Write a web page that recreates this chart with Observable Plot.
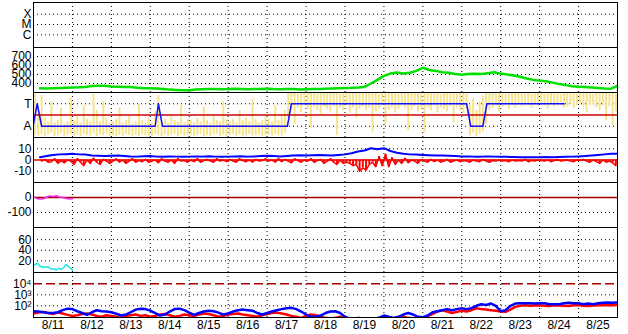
<!DOCTYPE html>
<html><head><meta charset="utf-8">
<script src="https://cdn.jsdelivr.net/npm/d3@7"></script>
<script src="https://cdn.jsdelivr.net/npm/@observablehq/plot@0.6"></script>
<style>
html,body{margin:0;padding:0;background:#fff;}
#chart{position:relative;width:628px;height:334px;overflow:hidden;background:#fff;}
#chart svg{position:absolute;left:0;}
</style></head><body><div id="chart"></div>
<script>
// ---- data ----
const dayLabels = ["8/11","8/12","8/13","8/14","8/15","8/16","8/17","8/18","8/19","8/20","8/21","8/22","8/23","8/24","8/25"];
const xrayTickValues = [-6, -5, -4];
const xrayTickLabels = ["C", "M", "X"];
const speedTicks = [400, 500, 600, 700];
const phiTickValues = [135, 315];
const phiTickLabels = ["A", "T"];
const bTicks = [-10, 0, 10];
const magTicks = [-100, 0];
const cyanTicks = [20, 40, 60];
const protonTickValues = [100, 1000, 10000];
const protonTickLabels = ["10²", "10³", "10⁴"];

// solar wind speed, every 4 h from 8/11 04:00
const speed = [348,345,348,350,352,355,357,362,372,375,
  374,368,365,362,360,352,348,346,345,340,
  332,328,325,326,332,335,338,340,336,338,
  342,340,336,338,340,342,338,336,340,338,
  332,335,338,340,342,345,348,350,352,356,
  362,400,440,485,510,522,512,520,540,575,
  550,540,525,520,505,498,505,508,506,515,
  525,510,500,488,475,455,440,432,425,410,
  395,382,370,365,360,355,350,345,342,372];

// IMF phi angle ranges, 2-hour bins from 8/11 00:00
const phiLo = [60,55,70,50,65,80,55,60,75,50,60,70,
  55,65,50,70,60,55,75,50,65,60,70,55,
  60,50,65,55,70,60,50,65,55,70,60,50,
  55,70,60,50,65,55,60,70,50,65,55,60,
  65,55,60,70,50,60,55,65,70,55,60,50,
  60,70,55,65,50,60,70,55,60,65,50,60,
  65,55,70,60,55,80,
  200,260,150,280,240,300,270,120,280,260,230,290,
  270,250,290,60,280,260,300,240,280,200,270,290,
  260,280,90,250,270,300,150,260,280,240,270,300,
  280,100,260,290,250,270,80,280,260,300,240,280,
  270,250,290,160,280,260,240,270,
  60,80,50,70,90,150,
  260,280,300,250,290,310,270,300,280,320,290,300,
  300,280,310,290,320,300,270,310,290,300,320,280,
  290,310,280,300,320,290,240,300,310,280,260,300,
  180,290,140,250];
const phiHi = [390,240,380,200,170,330,160,180,280,150,170,360,
  180,210,160,300,190,170,390,260,170,330,200,160,
  170,190,280,160,180,220,150,170,310,180,160,200,
  160,250,380,170,190,160,210,180,170,300,160,190,
  180,160,200,170,290,180,160,210,180,170,330,190,
  170,190,160,260,180,200,170,350,190,160,180,210,
  190,170,300,180,220,260,
  400,395,405,390,400,405,395,400,405,390,400,405,
  395,405,400,405,390,400,405,395,400,405,395,400,
  405,400,395,405,390,400,405,395,400,405,390,400,
  400,405,395,400,405,390,400,405,395,400,405,390,
  405,400,395,405,390,400,405,395,
  300,350,260,330,380,400,
  400,405,395,400,405,390,400,405,395,400,405,395,
  400,390,405,395,400,390,405,400,395,405,390,400,
  400,395,405,390,400,405,395,400,390,405,400,395,
  400,395,405,390];
// sector polarity line (hours, degrees)
const polarityHours = [0, 2.3, 5, 75, 77, 79.5, 156.5, 159, 267, 269.5, 277, 279.5, 327];
const polarityValues = [155, 315, 135, 135, 315, 135, 135, 315, 315, 135, 135, 315, 315];
const sectorBoundary = 225;

// Bt every 4 h from 8/11 04:00
const bt = [2.5,3.5,4.5,5.0,5.2,5.5,5.0,4.8,4.0,3.8,
  3.5,3.8,4.0,3.6,3.2,3.0,3.4,3.6,3.0,2.8,
  3.2,3.0,2.8,3.0,3.2,3.0,3.4,3.0,2.8,3.0,
  3.2,3.4,3.0,3.2,3.5,3.8,3.5,3.2,3.6,4.0,
  4.2,4.0,4.2,4.5,4.2,4.0,4.5,5.0,6.0,7.5,
  8.5,10.5,9.5,10.5,8.0,6.5,5.5,5.0,4.8,4.5,
  4.2,4.0,4.0,3.8,3.5,3.2,3.2,3.0,3.0,3.2,
  3.0,2.8,2.8,2.6,2.5,2.5,2.4,2.5,2.6,2.5,
  2.6,2.8,3.0,3.2,3.5,4.0,4.5,5.0,5.5,5.5];
// Bz every 2 h from 8/11 05:00
const bz = [-1,0.5,-2,-1.5,1,-3,-0.5,-2.5,0,-1,
  -4,1,-2,-5,0,-3,1.5,-2,-4,0.5,-1,-3,
  -1,1,-2,0,-3,-1,1,-2,-0.5,-1.5,0.5,-2,
  -1,0,-2.5,1,-1,-2,0,-3,1,-1,-0.5,-2,
  0,-1.5,1,-2,-0.5,0.5,-1,-2,1,-1,0,-1.5,
  0.5,-1,-2,1,-0.5,-1.5,0,-2,0.5,-1,-0.5,1,
  -1,0,-2,1,-1.5,0.5,-1,-2.5,1,-0.5,-2,0,
  -1,1,-2,-0.5,0.5,-3,-1,1,-2,-4,0,-3,
  -2,-3,-5,-4,-10,-7,-9,-4,-2,-6,3,-5,
  5,-6,2,-4,0,-3,1.5,-2.5,0,-1,-3,0.5,
  -1,-2,0.5,-1.5,0,-2,-1,0.5,-2,-1,0,-1.5,
  -0.5,-1,-2,0,-1,-1.5,0.5,-1,-2,-0.5,-1,0,
  -1,-0.5,-1.5,0,-1,-0.5,-1,0.5,-1.5,-0.5,-1,0,
  -0.5,-1,0,-1.5,-0.5,0.5,-1,-0.5,0,-1,-1.5,0,
  -0.5,0.5,-1,-2,0,-1.5,-3,0,-2,-1,-2.5,-5];

// magnetometer-like series, every 2 h from 8/11 00:00
const magenta = [8,-6,-10,-8,2,10,6,12,3,0,-5,-10,-8];
// hourly series from 8/11 00:00
const cyan = [11,13,15,14,9,10,7,9,8,9,6,5,4,5,3,5,6,4,6,9,13,11,8,6,2];

// particle flux, every 3 h from 8/11 00:00
const fluxBlue = [32,30,26,22,22,26,40,55,
  50,32,22,15,26,40,32,30,
  26,19,13,16,26,45,55,50,
  36,22,13,16,30,50,55,40,
  24,15,22,30,36,32,24,16,
  20,30,40,45,40,36,22,16,
  22,30,40,50,60,65,50,30,
  16,10,10,13,22,30,32,22,
  10,7,7,7,7,7,7,8,
  13,10,8,10,16,22,16,10,
  9,13,26,32,40,50,40,50,
  60,50,60,100,140,120,160,100,
  32,40,100,160,170,170,170,160,
  170,170,140,140,140,170,190,170,
  170,140,160,140,170,190,200,190,
  200];
const fluxRed = [20,25,28,22,18,24,20,15,
  12,14,18,20,16,12,10,14,
  12,10,8,12,14,16,12,14,
  10,12,16,18,14,10,12,16,
  14,12,16,20,18,14,10,12,
  16,18,20,16,14,12,10,14,
  18,22,24,20,16,12,10,8,
  12,16,14,10,8,7,8,10,
  7,6,7,8,6,7,6,7,
  8,6,7,8,10,8,7,9,
  8,12,18,30,40,30,22,28,
  35,30,40,60,50,45,40,35,
  30,28,45,80,100,110,100,105,
  110,100,95,110,105,100,95,110,
  120,100,95,105,110,115,120,110,
  120];
const fluxThreshold = 10000;

// ---- build ----
const t0 = Date.UTC(2016, 7, 11);
const HOUR = 3600e3;
const at = h => new Date(t0 + h * HOUR);
const xDomain = [at(0), at(360)];
const series = (vals, start, step) => vals.map((v, i) => ({t: at(start + i * step), v}));
const midnights = d3.range(1, 15).map(i => at(24 * i));
const days = dayLabels.map((label, i) => ({t: at(24 * i + 12), label}));
const chart = document.getElementById("chart");
const FONT = '"Liberation Sans", Arial, Helvetica, sans-serif';
const dots = {stroke: "black", strokeDasharray: "1,3", strokeWidth: 1};

function panel(i, yOpts, ticks, tickFormat, marks, extra = {}) {
  const mb = extra.marginBottom || 0;
  const svg = Plot.plot({
    width: 628, height: 45 + mb,
    marginLeft: 33, marginRight: 11, marginTop: 0, marginBottom: mb,
    x: {type: "utc", domain: xDomain, axis: null},
    y: {...yOpts, label: null},
    style: {fontFamily: FONT, fontSize: "12px", background: "transparent", overflow: "visible", color: "black"},
    marks: [
      Plot.ruleX(midnights, dots),
      ...(extra.grid || ticks).map(v => Plot.ruleY([v], dots)),
      ...marks,
      Plot.axisY({ticks, tickSize: 0, tickPadding: 2, tickFormat, fontSize: 12, label: null}),
      Plot.frame({stroke: "black", strokeWidth: 1}),
      ...(extra.after || [])
    ]
  });
  svg.style.top = (2 + 45 * i) + "px";
  chart.appendChild(svg);
}

// 1: X-ray class
panel(0, {domain: [-7.233, -2.864]}, xrayTickValues,
  d => xrayTickLabels[xrayTickValues.indexOf(d)], []);

// 2: speed
panel(1, {domain: [300, 800]}, speedTicks, d => String(d), [
  Plot.line(series(speed, 4, 4), {x: "t", y: "v", stroke: "#00e000", strokeWidth: 2.5, clip: true})
]);

// 3: phi
const phiBins = phiLo.map((lo, i) => ({t: at(2 * i + 1), lo, hi: phiHi[i]}));
const polarity = polarityHours.map((h, i) => ({t: at(h), v: polarityValues[i]}));
panel(2, {domain: [45, 405]}, phiTickValues,
  d => phiTickLabels[phiTickValues.indexOf(d)], [
  Plot.ruleX(phiBins, {x: "t", y1: "lo", y2: "hi", stroke: "#f6e38c", strokeWidth: 2, clip: true}),
  Plot.ruleY([sectorBoundary], {stroke: "#cc0000", strokeWidth: 1.5}),
  Plot.line(polarity, {x: "t", y: "v", stroke: "#1010ff", strokeWidth: 1.5, clip: true})
]);

// 4: Bz / Bt
const bzSeries = series(bz, 5, 2);
panel(3, {domain: [-20, 20]}, bTicks, d => String(d), [
  Plot.ruleY([0], {stroke: "#dd0000", strokeWidth: 1.5}),
  Plot.ruleX(bzSeries, {x: "t", y1: 0, y2: "v", stroke: "#ff0000", strokeWidth: 2, clip: true}),
  Plot.line(bzSeries, {x: "t", y: "v", stroke: "#ff0000", strokeWidth: 1.5, clip: true}),
  Plot.line(series(bt, 4, 4), {x: "t", y: "v", stroke: "#0000ff", strokeWidth: 2, clip: true})
], {grid: [-10, 10]});

// 5: magenta
panel(4, {domain: [-200, 100]}, magTicks, d => String(d), [
  Plot.ruleY([0], {stroke: "#a00000", strokeWidth: 1.5}),
  Plot.line(series(magenta, 0, 2), {x: "t", y: "v", stroke: "#ee22ee", strokeWidth: 1.5, clip: true})
], {grid: [-100]});

// 6: cyan
panel(5, {domain: [-2, 83]}, cyanTicks, d => String(d), [
  Plot.line(series(cyan, 0, 1), {x: "t", y: "v", stroke: "#22e6e6", strokeWidth: 1.5, clip: true})
]);

// 7: particle flux (log)
panel(6, {type: "log", domain: [8.63, 106400]}, protonTickValues,
  d => protonTickLabels[protonTickValues.indexOf(d)], [
  Plot.ruleY([fluxThreshold], {stroke: "#a80000", strokeWidth: 1.5, strokeDasharray: "9,4"}),
  Plot.line(series(fluxRed, 0, 3), {x: "t", y: "v", stroke: "#ff0000", strokeWidth: 2.5, clip: true}),
  Plot.line(series(fluxBlue, 0, 3), {x: "t", y: "v", stroke: "#0000ff", strokeWidth: 2.5, clip: true})
], {grid: [100, 1000], marginBottom: 17, after: [
  Plot.text(days, {x: "t", text: "label", frameAnchor: "bottom", lineAnchor: "top", dy: 3, fontSize: 12})
]});
</script></body></html>
